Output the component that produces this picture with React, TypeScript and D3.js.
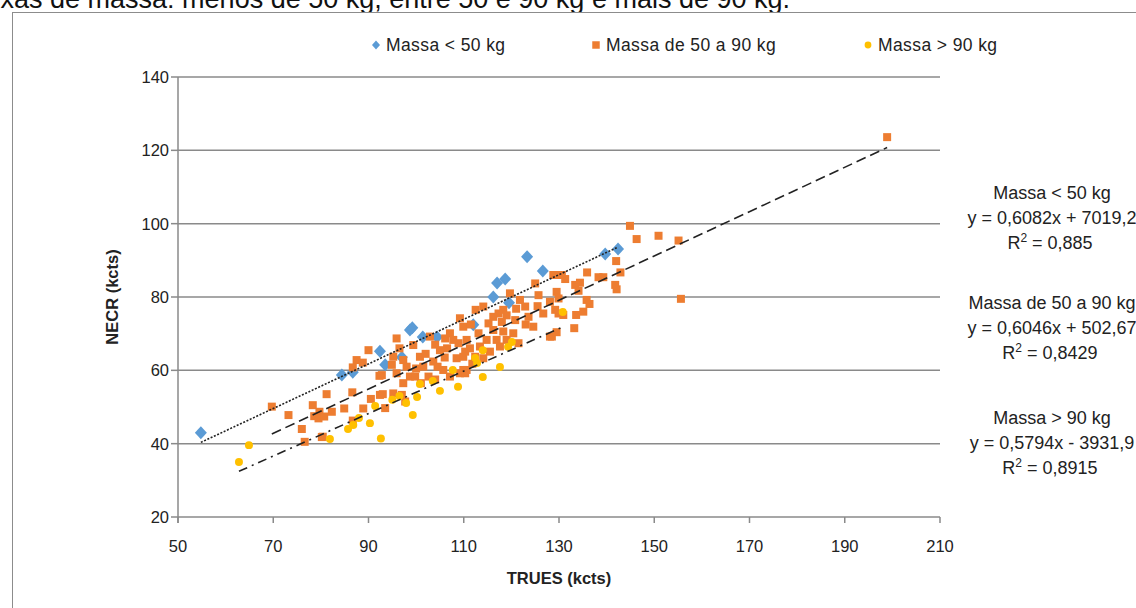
import React from "react";
import * as d3 from "d3";

// NECR vs TRUES (kcts) by patient mass group
const seriesNames = ["Massa < 50 kg", "Massa de 50 a 90 kg", "Massa > 90 kg"];
const seriesColors = ["#5B9BD5", "#ED7D31", "#FFC000"];

const lightPatients: [number, number][] = [
  [54.8, 43], [84.4, 58.7], [86.7, 59.5], [92.4, 65.2], [93.5, 61.5], [97, 63.6],
  [98.7, 71], [99.2, 71.6], [101.4, 69.1], [104.4, 69.1], [112, 72.4], [116.2, 80],
  [117, 83.8], [118.7, 84.9], [119.5, 78.4], [123.3, 91], [126.6, 87.1],
  [139.7, 91.7], [142.4, 93.1],
];

const mediumPatients: [number, number][] = [
  [69.7, 50.1], [73.2, 47.8], [76, 44], [76.6, 40.5], [80.2, 41.8], [78.3, 50.5],
  [81.2, 53.5], [78.6, 47.5], [79.7, 48.7], [79.5, 46.9], [80.7, 47.4], [82.3, 48.7],
  [80.4, 41.9], [84.9, 49.6], [86.6, 54], [86.7, 46.3], [88.9, 49.6], [90.5, 52.2],
  [90, 65.5], [87.5, 62.8], [88.8, 62.1], [86.7, 60.8], [92.3, 58.5], [92.4, 53.3],
  [95.9, 68.7], [96.5, 66], [95.2, 63.7], [92.8, 58.7], [94.9, 61.5], [97.3, 62.8],
  [98, 61], [98.7, 58.3], [95.9, 59.2], [97.3, 56.5], [93, 53.5], [95.2, 53.7],
  [97, 53.3], [97.7, 51.5], [93.5, 49.7], [100.8, 63.7], [101.5, 61], [102.6, 58.3],
  [99.8, 58.3], [103.6, 62.4], [105, 65.5], [104, 67], [105.7, 60.1], [107.1, 58.3],
  [106.1, 68.7], [107.1, 70.1], [109.2, 74.2], [109.9, 71.9], [108.9, 67.4], [110.3, 65.1],
  [108.5, 63.3], [110.6, 60.1], [109.2, 59.2], [102.9, 69.2], [107.8, 68.3], [99.4, 66.9],
  [119.7, 81], [121.8, 79.2], [125.7, 80.5], [128.8, 86], [129.5, 81.4], [125, 83.7],
  [114.1, 77.4], [116.2, 74.6], [118.3, 76.5], [117.3, 75.5], [122.9, 77.4], [123.6, 74.6],
  [120.8, 73.7], [120.4, 70.1], [121.5, 67.4], [124.6, 71.9], [126.7, 75.5], [118.3, 70.6],
  [116.2, 71], [116.9, 68.3], [114.8, 68.3], [113.1, 70.1], [113.4, 66.5], [110.6, 68.3],
  [111.3, 66], [109.9, 63.7], [112.4, 63.7], [114.1, 63.3], [115.5, 65.1], [117.6, 66.5],
  [119, 68.3], [128.1, 69.2], [129.9, 75.5], [109.9, 60.1], [110.3, 59.2],
  [112.5, 76.5], [119, 75], [121, 76.8], [123, 72.5], [125.5, 77.5], [111.5, 72.5],
  [115.2, 72.8], [118, 73.2], [106, 63.5], [104.5, 61], [102, 64.5], [100, 60.5],
  [101, 56.5], [104, 57.5], [106.5, 66], [111.8, 61.8],
  [144.9, 99.4], [146.3, 95.8], [150.9, 96.7], [155.1, 95.4], [155.6, 79.5], [142, 89.8],
  [142.9, 86.7], [141.8, 83.3], [142.1, 82.1], [135.9, 86.7], [134.4, 83.9], [133.4, 83.3],
  [134.1, 81.7], [138.3, 85.4], [139.3, 85.4], [131.3, 84.9], [129.2, 86], [130.6, 86],
  [129.9, 79.6], [135.8, 79.2], [136.4, 78.1], [135.1, 76], [133.6, 75.1], [130.9, 75.1],
  [129.2, 76.5], [128.1, 78.7], [133.2, 71.5], [129.5, 70.4], [128.5, 69.2],
  [198.9, 123.6],
];

const heavyPatients: [number, number][] = [
  [62.8, 35], [64.9, 39.6], [81.9, 41.3], [85.7, 44], [86.8, 45.1], [88, 47],
  [90.3, 45.6], [91.4, 50.3], [92.6, 41.4], [97.9, 51.1], [99.3, 47.8], [100.2, 52.7],
  [100.8, 56.3], [103.5, 57.1], [105, 54.4], [107.7, 60.1], [108.8, 55.5], [112.4, 63.4],
  [112.8, 62], [114, 65.5], [114, 58.2], [117.6, 60.9], [119.3, 66.4], [120.1, 67.7],
  [130.8, 75.9], [96.5, 53], [95, 52],
];

// Linear trendlines as reported (intercepts in counts; x and y in kcts)
const trendSlopes = [0.6082, 0.6046, 0.5794];
const trendIntercepts = [7019.2, 502.67, -3931.9];
const trendR2 = ["0,885", "0,8429", "0,8915"];
const trendEquations = ["y = 0,6082x + 7019,2", "y = 0,6046x + 502,67", "y = 0,5794x - 3931,9"];
const trendTitles = ["Massa  < 50 kg", "Massa  de 50 a 90 kg", "Massa  > 90 kg"];

const xTicks = [50, 70, 90, 110, 130, 150, 170, 190, 210];
const yTicks = [20, 40, 60, 80, 100, 120, 140];

const captionText = "faixas de massa: menos de 50 kg, entre 50 e 90 kg e mais de 90 kg.";

const FONT = "'Liberation Sans', Arial, sans-serif";

export default function App() {
  const x = d3.scaleLinear().domain([50, 210]).range([178, 940]);
  const y = d3.scaleLinear().domain([20, 140]).range([517, 77]);

  const allSeries = [lightPatients, mediumPatients, heavyPatients];
  const dashes = ["2,1.6", "10,5", "9,5,2,5"];

  const trendLine = d3
    .line<[number, number]>()
    .x((d) => x(d[0]))
    .y((d) => y(d[1]));

  const diamond = "M0,-6.5L6,0L0,6.5L-6,0Z";
  const square = d3.symbol(d3.symbolSquare, 64)();
  const circle = d3.symbol(d3.symbolCircle, 50)();
  const shapes = [diamond, square, circle];

  const legendX = [376, 596, 868];
  const eqBlockY = [199, 309, 424];

  return (
    <svg
      width={1136}
      height={608}
      style={{ position: "absolute", left: 0, top: 0, background: "#fff" }}
      fontFamily={FONT}
    >
      <text x={790} y={8} fontSize={27} textAnchor="end" fill="#111">
        {captionText}
      </text>
      <rect x={12.5} y={12.5} width={1200} height={700} fill="#fff" stroke="#8c8c8c" strokeWidth={1} />

      {/* gridlines */}
      {yTicks.slice(1).map((t) => (
        <line key={"g" + t} x1={x(50)} x2={x(210)} y1={y(t)} y2={y(t)} stroke="#8a8a8a" strokeWidth={1.5} />
      ))}
      {/* axes */}
      <line x1={x(50)} x2={x(50)} y1={y(140)} y2={y(20) + 6} stroke="#8a8a8a" strokeWidth={1.5} />
      <line x1={x(50)} x2={x(210)} y1={y(20)} y2={y(20)} stroke="#8a8a8a" strokeWidth={1.5} />
      {yTicks.map((t) => (
        <g key={"y" + t}>
          <line x1={x(50) - 7} x2={x(50)} y1={y(t)} y2={y(t)} stroke="#8a8a8a" strokeWidth={1.5} />
          <text x={x(50) - 9} y={y(t) + 6} fontSize={16.5} textAnchor="end" fill="#222">
            {t}
          </text>
        </g>
      ))}
      {xTicks.map((t) => (
        <g key={"x" + t}>
          <line x1={x(t)} x2={x(t)} y1={y(20)} y2={y(20) + 6} stroke="#8a8a8a" strokeWidth={1.5} />
          <text x={x(t)} y={y(20) + 35} fontSize={16.5} textAnchor="middle" fill="#222">
            {t}
          </text>
        </g>
      ))}

      {/* markers */}
      {allSeries.map((pts, si) => (
        <g key={"s" + si} fill={seriesColors[si]}>
          {pts.map((p, i) => (
            <path key={i} d={shapes[si]!} transform={`translate(${x(p[0])},${y(p[1])})`} />
          ))}
        </g>
      ))}

      {/* trendlines */}
      {allSeries.map((pts, si) => {
        const [x0, x1] = d3.extent(pts, (d) => d[0]) as [number, number];
        const f = (v: number) => trendSlopes[si] * v + trendIntercepts[si] / 1000;
        return (
          <path
            key={"t" + si}
            d={trendLine([
              [x0, f(x0)],
              [x1, f(x1)],
            ])!}
            fill="none"
            stroke="#222"
            strokeWidth={1.6}
            strokeDasharray={dashes[si]}
          />
        );
      })}

      {/* legend */}
      {seriesNames.map((name, si) => (
        <g key={"l" + si}>
          <path
            d={si === 0 ? "M0,-4.5L4,0L0,4.5L-4,0Z" : si === 1 ? d3.symbol(d3.symbolSquare, 56)()! : d3.symbol(d3.symbolCircle, 36)()!}
            transform={`translate(${legendX[si]},45)`}
            fill={seriesColors[si]}
          />
          <text x={legendX[si] + 10} y={51} fontSize={17.5} fill="#222" letterSpacing={0.4}>
            {name}
          </text>
        </g>
      ))}

      {/* trendline labels */}
      {trendTitles.map((title, si) => (
        <g key={"e" + si} fontSize={18} fill="#222" textAnchor="middle">
          <text x={1052} y={eqBlockY[si]}>{title}</text>
          <text x={1052} y={eqBlockY[si] + 25}>{trendEquations[si]}</text>
          <text x={1050} y={eqBlockY[si] + 50}>
            R<tspan dy={-7} fontSize={12}>2</tspan>
            <tspan dy={7}> = {trendR2[si]}</tspan>
          </text>
        </g>
      ))}

      {/* axis titles */}
      <text
        transform={`translate(118,${y(80)}) rotate(-90)`}
        fontSize={16.5}
        fontWeight="bold"
        textAnchor="middle"
        fill="#222"
      >
        NECR (kcts)
      </text>
      <text x={x(130)} y={584} fontSize={16.5} fontWeight="bold" textAnchor="middle" fill="#222">
        TRUES (kcts)
      </text>
    </svg>
  );
}
